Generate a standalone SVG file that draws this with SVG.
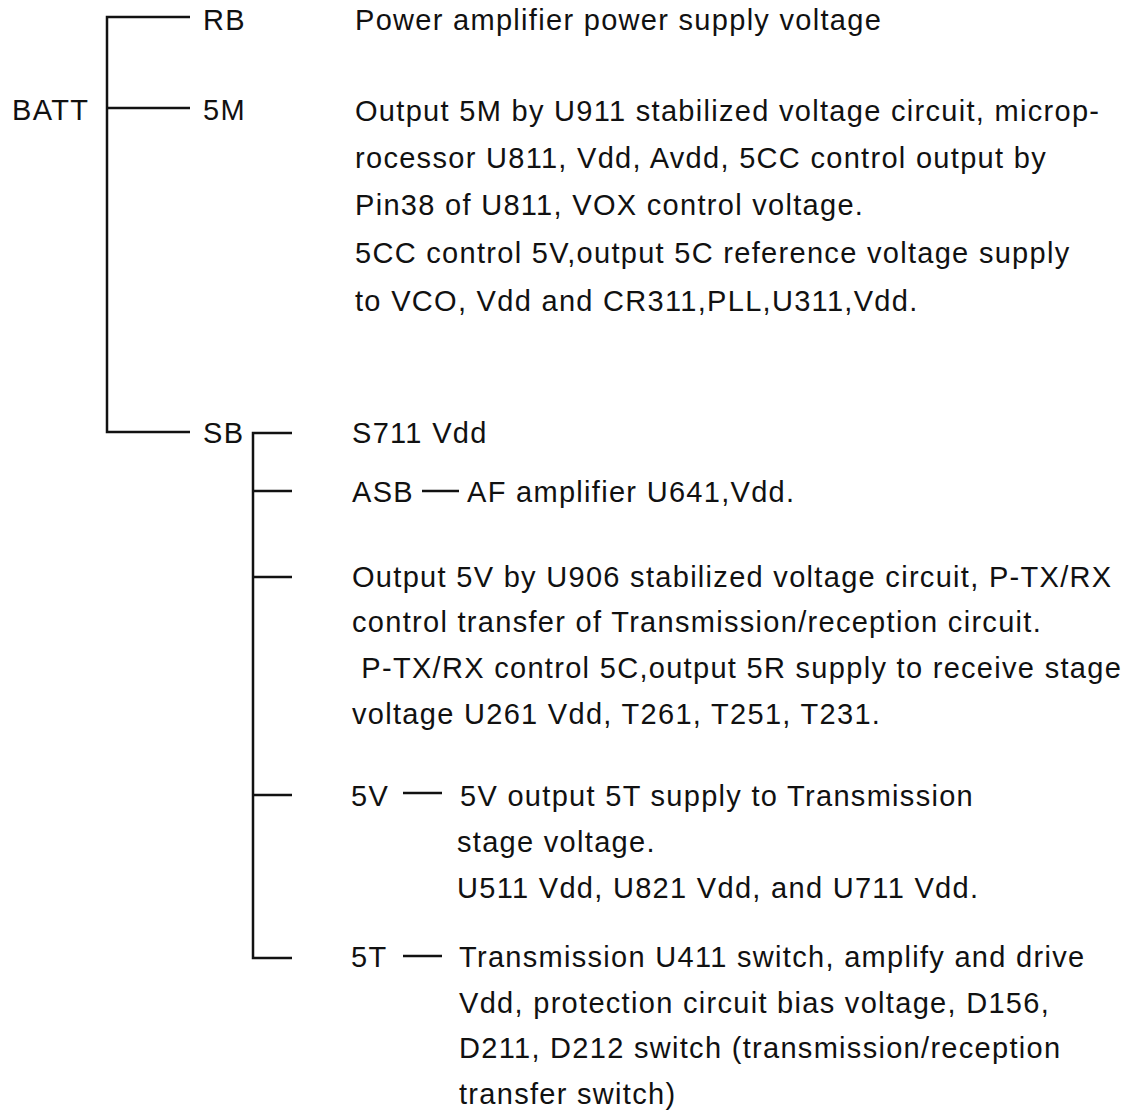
<svg xmlns="http://www.w3.org/2000/svg" width="1137" height="1115" viewBox="0 0 1137 1115">
<style>
text{font-family:"Liberation Sans",Arial,sans-serif;font-size:29px;letter-spacing:1.3px;fill:#111}
.ln{stroke:#111;stroke-width:2.5;fill:none}
</style>
<rect width="1137" height="1115" fill="#fff"/>
<g id="connectors">
<path class="ln" d="M190,17 H107 V432 H190"/>
<path class="ln" d="M107,108 H190"/>
<path class="ln" d="M292,433 H253 V958 H292"/>
<path class="ln" d="M253,491 H292 M253,577 H292 M253,795 H292"/>
<path class="ln" d="M422,491 H459 M403,793 H442 M403,956 H442"/>
</g>
<g id="batt"><text x="12" y="120">BATT</text></g>
<g id="rb"><text x="203" y="30">RB</text><text x="355" y="30">Power amplifier power supply voltage</text></g>
<g id="m5"><text x="203" y="120">5M</text>
<text x="355" y="121">Output 5M by U911 stabilized voltage circuit, microp-</text>
<text x="355" y="168">rocessor U811, Vdd, Avdd, 5CC control output by</text>
<text x="355" y="215">Pin38 of U811, VOX control voltage.</text>
<text x="355" y="263">5CC control 5V,output 5C reference voltage supply</text>
<text x="355" y="311">to VCO, Vdd and CR311,PLL,U311,Vdd.</text></g>
<g id="sb"><text x="203" y="443">SB</text></g>
<g id="s711"><text x="352" y="443">S711 Vdd</text></g>
<g id="asb"><text x="352" y="502">ASB</text><text x="467" y="502">AF amplifier U641,Vdd.</text></g>
<g id="u906"><text x="352" y="587">Output 5V by U906 stabilized voltage circuit, P-TX/RX</text>
<text x="352" y="632">control transfer of Transmission/reception circuit.</text>
<text x="352" y="678" xml:space="preserve"> P-TX/RX control 5C,output 5R supply to receive stage</text>
<text x="352" y="724">voltage U261 Vdd, T261, T251, T231.</text></g>
<g id="v5"><text x="351" y="806">5V</text><text x="460" y="806">5V output 5T supply to Transmission</text>
<text x="457" y="852">stage voltage.</text>
<text x="457" y="898">U511 Vdd, U821 Vdd, and U711 Vdd.</text></g>
<g id="t5"><text x="351" y="967">5T</text><text x="459" y="967">Transmission U411 switch, amplify and drive</text>
<text x="459" y="1013">Vdd, protection circuit bias voltage, D156,</text>
<text x="459" y="1058">D211, D212 switch (transmission/reception</text>
<text x="459" y="1104">transfer switch)</text></g>
</svg>
